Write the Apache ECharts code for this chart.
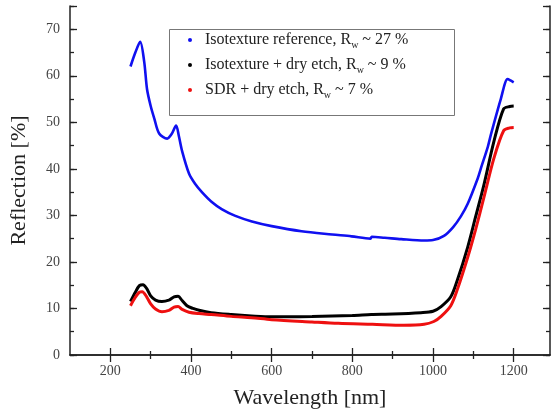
<!DOCTYPE html>
<html>
<head>
<meta charset="utf-8">
<script src="https://cdn.jsdelivr.net/npm/echarts@6/dist/echarts.min.js"></script>
<style>
html, body { margin: 0; padding: 0; background: #fff; }
#chart { width: 553px; height: 414px; }
</style>
</head>
<body>
<div id="chart"></div>
<script>
// wavelength [nm] / reflection [%]
const blueWl = [250, 262, 274, 284, 291, 300, 309, 321, 341, 352, 363, 370, 378, 395, 410, 427, 450, 477, 510, 551, 600, 674, 750, 798, 845, 848, 880, 921, 978, 1000, 1027, 1050, 1069, 1086, 1111, 1119, 1136, 1143, 1168, 1185, 1192, 1200];
const blueR = [62.0, 65.0, 67.3, 63.0, 57.1, 53.5, 50.8, 47.6, 46.5, 47.5, 49.3, 47.0, 43.8, 39.0, 36.8, 35.0, 33.0, 31.3, 29.9, 28.7, 27.7, 26.6, 25.9, 25.5, 25.0, 25.4, 25.2, 24.9, 24.6, 24.7, 25.6, 27.5, 29.8, 32.5, 38.0, 40.2, 44.8, 47.2, 55.0, 59.3, 59.0, 58.6];

const blackWl = [250, 262, 272, 281, 290, 300, 312, 328, 345, 358, 368, 378, 390, 405, 420, 450, 500, 550, 600, 700, 800, 847, 900, 970, 1000, 1020, 1044, 1060, 1086, 1105, 1126, 1151, 1175, 1190, 1200];
const blackR = [11.5, 13.5, 14.9, 15.1, 14.3, 12.7, 11.8, 11.5, 11.8, 12.5, 12.6, 11.7, 10.6, 10.0, 9.6, 9.1, 8.7, 8.4, 8.2, 8.3, 8.5, 8.7, 8.8, 9.1, 9.4, 10.4, 12.5, 16.0, 23.2, 29.5, 36.5, 45.9, 52.9, 53.4, 53.5];

const redWl = [250, 262, 272, 279, 290, 300, 312, 328, 345, 358, 368, 378, 395, 420, 450, 500, 550, 600, 700, 765, 850, 928, 978, 1002, 1020, 1044, 1060, 1086, 1105, 1126, 1151, 1175, 1190, 1200];
const redR = [10.6, 12.4, 13.5, 13.6, 12.5, 11.0, 9.9, 9.3, 9.6, 10.3, 10.4, 9.8, 9.2, 8.9, 8.7, 8.3, 8.0, 7.6, 7.1, 6.8, 6.6, 6.4, 6.6, 7.2, 8.3, 10.6, 14.0, 21.0, 26.8, 33.8, 42.3, 48.2, 48.8, 48.9];

const seriesNames = ['Isotexture reference', 'Isotexture + dry etch', 'SDR + dry etch'];
const rwValues = ['27', '9', '7'];
const colors = ['#1010f0', '#000000', '#ee1010'];

const xMajor = [200, 400, 600, 800, 1000, 1200];
const xMinor = [300, 500, 700, 900, 1100];

const FONT = 'Liberation Serif';
const zip = (xs, ys) => xs.map((x, i) => [x, ys[i]]);

const chart = echarts.init(document.getElementById('chart'));

const axisLine = { show: true, lineStyle: { color: '#222', width: 1.5 } };
const noLabel = { show: false };

// x 轴: 主刻度 + 次刻度，上下各一套
const xBase = { type: 'value', min: 100, max: 1290, splitLine: { show: false } };
const xAxes = [
    Object.assign({}, xBase, {
        position: 'bottom', axisLine,
        axisTick: { inside: true, length: 7, customValues: xMajor, lineStyle: { color: '#222', width: 1.3 } },
        axisLabel: { customValues: xMajor, formatter: v => String(v), fontFamily: FONT, fontSize: 14, color: '#444', margin: 9 },
        name: 'Wavelength [nm]', nameLocation: 'middle', nameGap: 32,
        nameTextStyle: { fontFamily: FONT, fontSize: 22, color: '#222' }
    }),
    Object.assign({}, xBase, {
        position: 'bottom', axisLine: { show: false }, axisLabel: noLabel,
        axisTick: { inside: true, length: 4, customValues: xMinor, lineStyle: { color: '#222', width: 1.3 } }
    }),
    Object.assign({}, xBase, {
        position: 'top', axisLine, axisLabel: noLabel,
        axisTick: { inside: true, length: 7, customValues: xMajor, lineStyle: { color: '#222', width: 1.3 } }
    }),
    Object.assign({}, xBase, {
        position: 'top', axisLine: { show: false }, axisLabel: noLabel,
        axisTick: { inside: true, length: 4, customValues: xMinor, lineStyle: { color: '#222', width: 1.3 } }
    })
];

// y 轴: 左右各一套
const yBase = { type: 'value', min: 0, max: 75, splitLine: { show: false } };
const yAxes = [
    Object.assign({}, yBase, {
        position: 'left', interval: 10, axisLine,
        axisTick: { inside: true, length: 7, lineStyle: { color: '#222', width: 1.3 } },
        axisLabel: {
            fontFamily: FONT, fontSize: 14, color: '#444', margin: 10,
            formatter: v => (v % 10 === 0 ? String(v) : '')
        },
        name: 'Reflection [%]', nameLocation: 'middle', nameGap: 40,
        nameTextStyle: { fontFamily: FONT, fontSize: 22, color: '#222' }
    }),
    Object.assign({}, yBase, {
        position: 'left', interval: 5, axisLine: { show: false }, axisLabel: noLabel,
        axisTick: { inside: true, length: 4, lineStyle: { color: '#222', width: 1.3 } }
    }),
    Object.assign({}, yBase, {
        position: 'right', interval: 10, axisLine, axisLabel: noLabel,
        axisTick: { inside: true, length: 7, lineStyle: { color: '#222', width: 1.3 } }
    }),
    Object.assign({}, yBase, {
        position: 'right', interval: 5, axisLine: { show: false }, axisLabel: noLabel,
        axisTick: { inside: true, length: 4, lineStyle: { color: '#222', width: 1.3 } }
    })
];

const datasets = [zip(blueWl, blueR), zip(blackWl, blackR), zip(redWl, redR)];
const widths = [2.6, 3, 3];

const option = {
    animation: false,
    backgroundColor: '#fff',
    grid: { left: 68, right: 3, top: 6, bottom: 55 },
    xAxis: xAxes,
    yAxis: yAxes,
    legend: {
        orient: 'vertical',
        left: 183, top: 27,
        itemGap: 7,
        icon: 'circle', itemWidth: 4, itemHeight: 4,
        data: seriesNames,
        formatter: name => {
            const i = seriesNames.indexOf(name);
            return '{a|' + name + ', R}{s|w}{a| ~ ' + rwValues[i] + ' %}';
        },
        textStyle: {
            padding: [0, 0, 0, 8],
            rich: {
                a: { fontFamily: FONT, fontSize: 16, color: '#222', lineHeight: 20 },
                s: { fontFamily: FONT, fontSize: 10, color: '#222', lineHeight: 12, verticalAlign: 'bottom' }
            }
        }
    },
    graphic: [{
        type: 'rect', left: 167, top: 27,
        shape: { width: 285, height: 86 },
        style: { fill: 'none', stroke: '#777', lineWidth: 1 },
        z: 1
    }],
    series: datasets.map((d, i) => ({
        name: seriesNames[i],
        type: 'line',
        xAxisIndex: 0, yAxisIndex: 0,
        data: d,
        smooth: 0.3,
        showSymbol: false,
        symbol: 'circle',
        symbolSize: 3,
        color: colors[i],
        lineStyle: { color: colors[i], width: widths[i] }
    }))
};

chart.setOption(option);
</script>
</body>
</html>
